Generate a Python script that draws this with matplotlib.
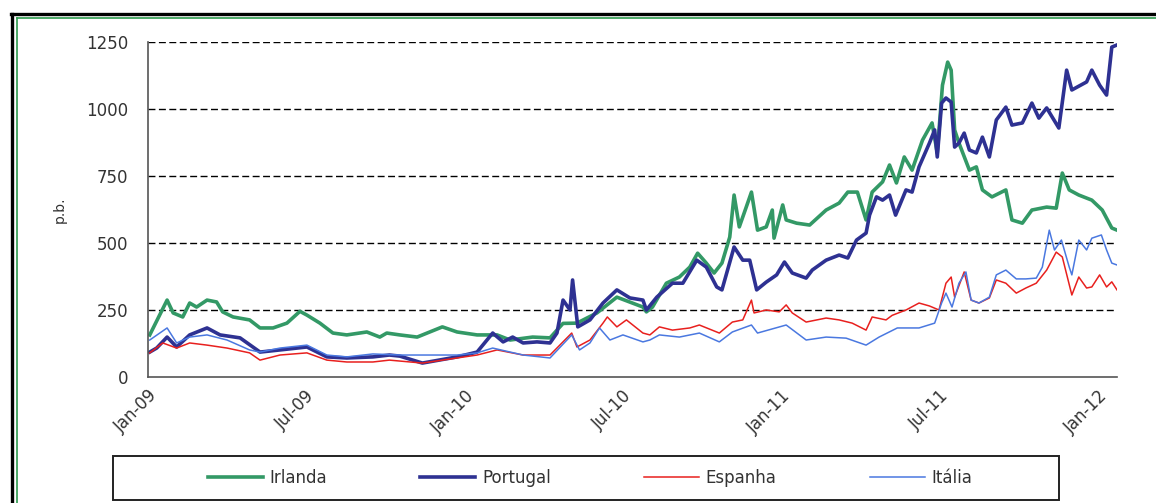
import numpy as np
import matplotlib
matplotlib.use("Agg")
import matplotlib.pyplot as plt
import matplotlib.dates as mdates
from matplotlib.lines import Line2D
from matplotlib.patches import Rectangle

# Spreads vs Bund (p.b.)
irlanda_dates = ["2009-01-03", "2009-01-23", "2009-01-30", "2009-02-10", "2009-02-18", "2009-02-26",
                 "2009-03-10", "2009-03-21", "2009-03-28", "2009-04-09", "2009-04-28", "2009-05-10",
                 "2009-05-25", "2009-06-10", "2009-06-25", "2009-07-03", "2009-07-18", "2009-08-02",
                 "2009-08-18", "2009-09-10", "2009-09-25", "2009-10-03", "2009-10-18", "2009-11-07",
                 "2009-12-06", "2009-12-23", "2010-01-15", "2010-02-07", "2010-02-22", "2010-03-20",
                 "2010-04-09", "2010-04-24", "2010-05-10", "2010-06-02", "2010-06-25", "2010-07-25",
                 "2010-07-29", "2010-08-05", "2010-08-21", "2010-09-05", "2010-09-17", "2010-09-26",
                 "2010-10-06", "2010-10-15", "2010-10-24", "2010-11-02", "2010-11-07", "2010-11-13",
                 "2010-11-21", "2010-11-27", "2010-12-04", "2010-12-14", "2010-12-21", "2010-12-23",
                 "2011-01-02", "2011-01-06", "2011-01-18", "2011-02-02", "2011-02-21", "2011-03-08",
                 "2011-03-18", "2011-03-29", "2011-04-08", "2011-04-15", "2011-04-27", "2011-05-05",
                 "2011-05-13", "2011-05-22", "2011-05-31", "2011-06-12", "2011-06-23", "2011-06-29",
                 "2011-07-05", "2011-07-11", "2011-07-15", "2011-07-19", "2011-07-24", "2011-08-05",
                 "2011-08-13", "2011-08-20", "2011-08-31", "2011-09-16", "2011-09-23", "2011-10-05",
                 "2011-10-16", "2011-11-02", "2011-11-13", "2011-11-20", "2011-11-28", "2011-12-09",
                 "2011-12-24", "2012-01-05", "2012-01-16", "2012-01-22"]
irlanda_vals = [157, 287, 239, 224, 276, 261,
                287, 280, 243, 224, 213, 183,
                183, 201, 245, 231, 201, 164,
                157, 168, 149, 164, 157, 149,
                187, 168, 157, 157, 138, 149,
                146, 200, 201, 239, 298, 261,
                243, 261, 350, 373, 410, 462,
                425, 388, 425, 522, 679, 560,
                634, 690, 548, 560, 623, 518,
                642, 586, 574, 567, 623, 649,
                690, 690, 586, 690, 728, 791,
                724, 821, 772, 884, 948, 836,
                1089, 1175, 1145, 922, 873, 772,
                784, 698, 672, 698, 586, 574,
                623, 634, 630, 761, 698, 679,
                660, 623, 556, 548]

portugal_dates = ["2009-01-03", "2009-01-11", "2009-01-23", "2009-02-03", "2009-02-18", "2009-03-10",
                  "2009-03-25", "2009-04-17", "2009-05-10", "2009-06-02", "2009-07-03", "2009-07-26",
                  "2009-08-18", "2009-09-17", "2009-10-06", "2009-10-18", "2009-11-13", "2009-12-23",
                  "2010-01-15", "2010-02-02", "2010-02-14", "2010-02-25", "2010-03-09", "2010-03-25",
                  "2010-04-09", "2010-04-17", "2010-04-24", "2010-05-02", "2010-05-05", "2010-05-11",
                  "2010-05-25", "2010-06-09", "2010-06-25", "2010-07-10", "2010-07-25", "2010-07-29",
                  "2010-08-10", "2010-08-28", "2010-09-09", "2010-09-25", "2010-10-06", "2010-10-18",
                  "2010-10-24", "2010-11-07", "2010-11-17", "2010-11-25", "2010-12-03", "2010-12-14",
                  "2010-12-26", "2011-01-04", "2011-01-13", "2011-01-29", "2011-02-05", "2011-02-21",
                  "2011-03-08", "2011-03-18", "2011-03-28", "2011-04-08", "2011-04-12", "2011-04-20",
                  "2011-04-27", "2011-05-05", "2011-05-12", "2011-05-24", "2011-05-31", "2011-06-08",
                  "2011-06-20", "2011-06-26", "2011-06-29", "2011-07-04", "2011-07-09", "2011-07-15",
                  "2011-07-19", "2011-07-24", "2011-07-30", "2011-08-05", "2011-08-13", "2011-08-20",
                  "2011-08-28", "2011-09-05", "2011-09-16", "2011-09-23", "2011-10-05", "2011-10-16",
                  "2011-10-24", "2011-11-02", "2011-11-16", "2011-11-25", "2011-12-01", "2011-12-18",
                  "2011-12-24", "2012-01-02", "2012-01-10", "2012-01-16", "2012-01-22"]
portugal_vals = [93, 108, 149, 112, 157, 183,
                 157, 146, 93, 101, 112, 75,
                 71, 75, 82, 78, 52, 75,
                 93, 164, 131, 149, 127, 131,
                 127, 164, 287, 250, 362, 187,
                 213, 276, 325, 295, 287, 250,
                 298, 350, 350, 436, 410, 336,
                 325, 485, 436, 436, 325, 354,
                 381, 429, 388, 369, 399, 436,
                 455, 444, 511, 537, 604, 672,
                 660, 679, 604, 698, 690, 784,
                 873, 922, 821, 1022, 1041, 1026,
                 858, 873, 910, 847, 836, 895,
                 821, 959, 1007, 940, 948, 1022,
                 966, 1004, 929, 1145, 1071, 1101,
                 1145, 1089, 1052, 1231, 1239]

espanha_dates = ["2009-01-03", "2009-01-18", "2009-02-03", "2009-02-18", "2009-03-10", "2009-04-02",
                 "2009-04-28", "2009-05-10", "2009-06-02", "2009-07-03", "2009-07-26", "2009-08-18",
                 "2009-09-17", "2009-10-06", "2009-11-13", "2009-12-23", "2010-01-15", "2010-02-07",
                 "2010-03-09", "2010-04-09", "2010-05-04", "2010-05-10", "2010-05-25", "2010-06-09",
                 "2010-06-14", "2010-06-25", "2010-07-06", "2010-07-25", "2010-08-02", "2010-08-13",
                 "2010-08-28", "2010-09-17", "2010-09-28", "2010-10-21", "2010-11-05", "2010-11-17",
                 "2010-11-27", "2010-11-30", "2010-12-14", "2010-12-29", "2011-01-06", "2011-01-13",
                 "2011-01-29", "2011-02-21", "2011-03-08", "2011-03-23", "2011-04-08", "2011-04-15",
                 "2011-05-01", "2011-05-08", "2011-05-24", "2011-06-08", "2011-06-20", "2011-07-01",
                 "2011-07-09", "2011-07-15", "2011-07-19", "2011-07-30", "2011-08-07", "2011-08-16",
                 "2011-08-28", "2011-09-05", "2011-09-16", "2011-09-28", "2011-10-09", "2011-10-21",
                 "2011-11-02", "2011-11-13", "2011-11-20", "2011-12-01", "2011-12-09", "2011-12-18",
                 "2011-12-24", "2012-01-02", "2012-01-10", "2012-01-16", "2012-01-22"]
espanha_vals = [90, 127, 108, 127, 119, 108,
                90, 63, 82, 90, 63, 56,
                56, 63, 52, 71, 82, 101,
                82, 82, 164, 112, 138, 201,
                224, 187, 213, 164, 157, 187,
                175, 183, 194, 164, 205, 213,
                287, 239, 250, 243, 269, 239,
                205, 220, 213, 201, 175, 224,
                213, 230, 250, 276, 265, 250,
                350, 373, 298, 392, 287, 276,
                295, 362, 350, 313, 332, 350,
                399, 466, 448, 306, 373, 332,
                336, 381, 336, 355, 325]

italia_dates = ["2009-01-03", "2009-01-23", "2009-02-03", "2009-02-18", "2009-03-10", "2009-04-02",
                "2009-04-28", "2009-05-10", "2009-06-02", "2009-07-03", "2009-07-26", "2009-08-18",
                "2009-09-17", "2009-10-18", "2009-11-13", "2009-12-23", "2010-01-15", "2010-02-02",
                "2010-03-09", "2010-04-09", "2010-05-04", "2010-05-13", "2010-05-25", "2010-06-05",
                "2010-06-17", "2010-07-02", "2010-07-25", "2010-08-02", "2010-08-13", "2010-09-05",
                "2010-09-28", "2010-10-21", "2010-11-05", "2010-11-27", "2010-12-04", "2011-01-06",
                "2011-01-29", "2011-02-21", "2011-03-16", "2011-04-08", "2011-04-23", "2011-05-14",
                "2011-05-24", "2011-06-08", "2011-06-26", "2011-07-04", "2011-07-09", "2011-07-16",
                "2011-07-24", "2011-08-01", "2011-08-07", "2011-08-16", "2011-08-28", "2011-09-05",
                "2011-09-16", "2011-09-28", "2011-10-09", "2011-10-21", "2011-10-28", "2011-11-05",
                "2011-11-11", "2011-11-19", "2011-11-28", "2011-12-01", "2011-12-09", "2011-12-18",
                "2011-12-24", "2012-01-04", "2012-01-10", "2012-01-16", "2012-01-22"]
italia_vals = [138, 183, 127, 149, 157, 138,
               101, 93, 108, 119, 82, 75,
               86, 82, 82, 82, 90, 108,
               82, 71, 157, 101, 127, 183,
               138, 157, 131, 138, 157, 149,
               164, 131, 168, 194, 164, 194,
               138, 149, 145, 119, 149, 183,
               183, 183, 201, 276, 313, 261,
               350, 392, 287, 276, 298, 381,
               399, 366, 366, 369, 410, 548,
               474, 511, 410, 381, 511, 474,
               518, 530, 474, 425, 418]

labels = ["Irlanda", "Portugal", "Espanha", "Itália"]
colors = ["#339966", "#2E3192", "#E8201E", "#4A78E0"]
widths = [2.6, 2.6, 1.1, 1.1]

y_ticks = [0, 250, 500, 750, 1000, 1250]


def to_dates(strings):
    return np.array(strings, dtype="datetime64[D]")


def main():
    plt.rcParams['font.family'] = ['DejaVu Sans']
    W, H = 1156, 503
    fig = plt.figure(figsize=(W / 100, H / 100), dpi=100)
    fig.patch.set_facecolor("white")

    ax = fig.add_axes([148 / W, 1 - 377 / H, (1117 - 148) / W, 335 / H])

    for y in y_ticks[1:]:
        ax.axhline(y, color="black", linewidth=1.0, linestyle=(0, (5, 2.5)), zorder=1)

    series = [(irlanda_dates, irlanda_vals), (portugal_dates, portugal_vals),
              (espanha_dates, espanha_vals), (italia_dates, italia_vals)]
    handles = []
    for (d, v), label, color, lw in zip(series, labels, colors, widths):
        line, = ax.plot(to_dates(d), v, color=color, linewidth=lw, label=label,
                        solid_joinstyle="round", zorder=2)
        handles.append(line)

    ax.set_ylim(0, 1250)
    ax.set_xlim(np.datetime64("2009-01-01"), np.datetime64("2012-01-22"))
    ax.set_yticks(y_ticks)
    ax.xaxis.set_major_locator(mdates.MonthLocator(bymonth=[1, 7]))
    ax.xaxis.set_major_formatter(mdates.DateFormatter("%b-%y"))
    ax.tick_params(axis="y", length=0, pad=14, labelsize=12, labelcolor="#333333")
    ax.tick_params(axis="x", length=0, pad=7, labelsize=12, labelcolor="#333333")
    for lbl in ax.get_xticklabels():
        lbl.set_rotation(45)
        lbl.set_ha("right")
        lbl.set_rotation_mode("anchor")

    for side in ["top", "right"]:
        ax.spines[side].set_visible(False)
    for side in ["left", "bottom"]:
        ax.spines[side].set_color("#555555")
        ax.spines[side].set_linewidth(1.2)

    ax.set_ylabel("p.b.", fontsize=10, color="#333333", labelpad=14)

    # legend, with its own frame box below the plot
    fig.legend(handles=handles, loc="center", bbox_to_anchor=(590 / W, 1 - 478 / H),
               ncol=4, frameon=False, fontsize=12, handlelength=3.3, handletextpad=0.4,
               columnspacing=5.6, labelcolor="#333333")
    fig.add_artist(Rectangle((113 / W, 1 - 500 / H), (1059 - 113) / W, 44 / H,
                             transform=fig.transFigure, fill=False,
                             edgecolor="#222222", linewidth=1.4))

    # outer frame: black border with green inner line
    fig.add_artist(Line2D([11 / W, 1], [1 - 14 / H, 1 - 14 / H], transform=fig.transFigure,
                          color="black", linewidth=2.4))
    fig.add_artist(Line2D([12 / W, 12 / W], [0, 1 - 14 / H], transform=fig.transFigure,
                          color="black", linewidth=2.4))
    fig.add_artist(Line2D([16.5 / W, 1], [1 - 18 / H, 1 - 18 / H], transform=fig.transFigure,
                          color="#2E9B4E", linewidth=1.2))
    fig.add_artist(Line2D([16.5 / W, 16.5 / W], [0, 1 - 18 / H], transform=fig.transFigure,
                          color="#2E9B4E", linewidth=1.2))

    fig.savefig("out.png", dpi=100)


if __name__ == "__main__":
    main()
